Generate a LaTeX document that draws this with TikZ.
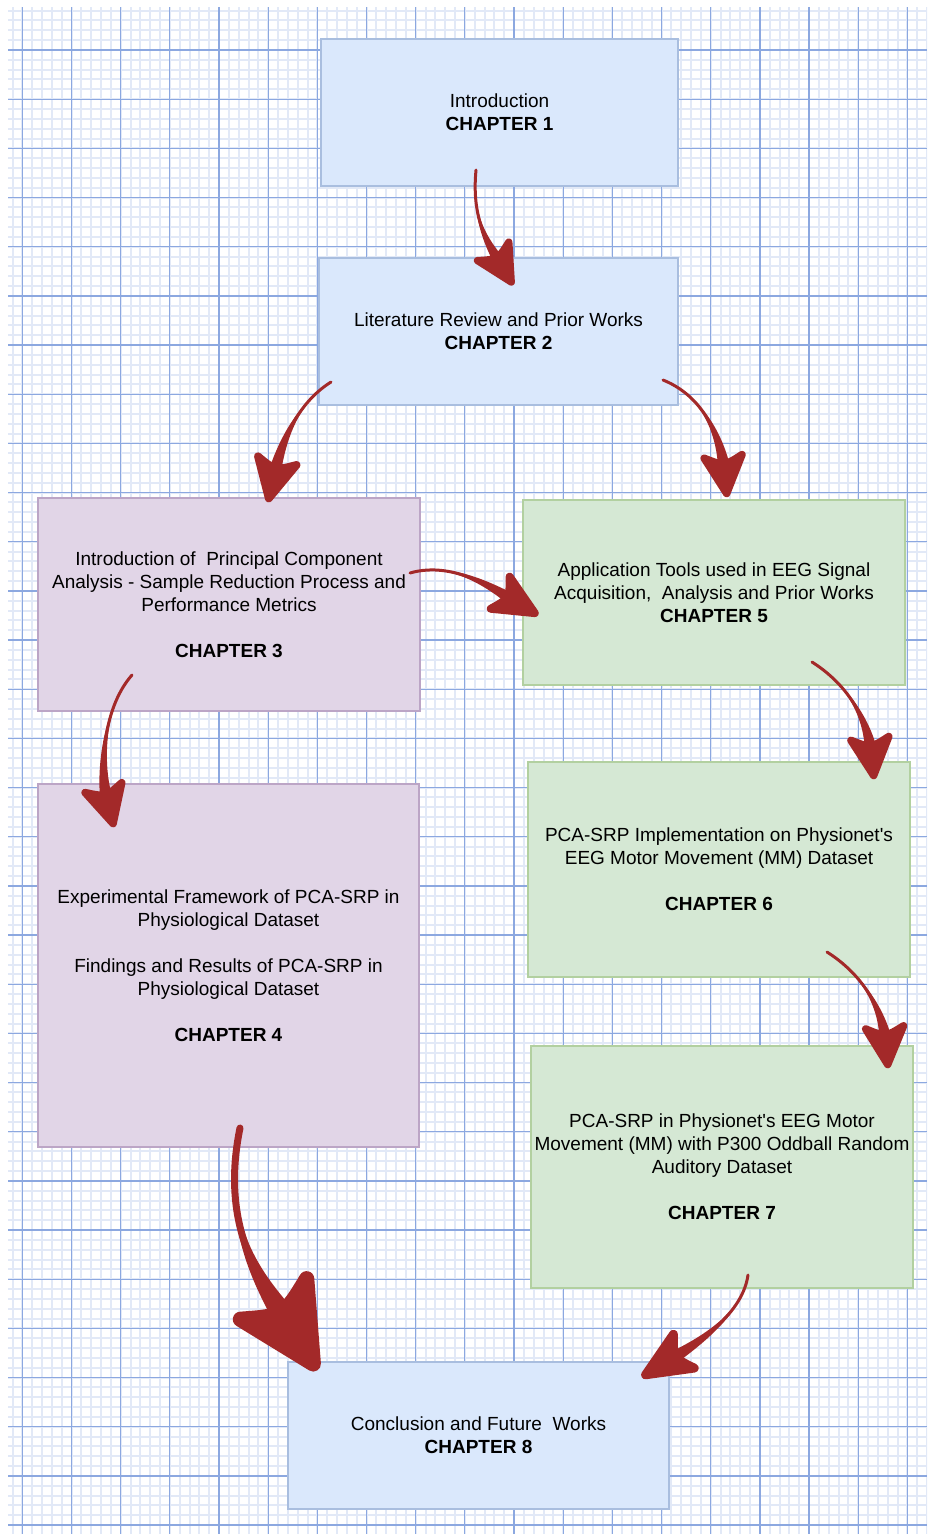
\documentclass[tikz,border=0pt]{standalone}
\usepackage{fontspec}
\setmainfont{Liberation Sans}
\usetikzlibrary{calc}

\definecolor{bfill}{HTML}{DAE8FC}
\definecolor{pfill}{HTML}{E1D5E7}
\definecolor{gfill}{HTML}{D5E8D4}
\definecolor{bline}{HTML}{A9BEDF}
\definecolor{pline}{HTML}{BCA5C6}
\definecolor{gline}{HTML}{B2D0A0}
\definecolor{arrowred}{RGB}{163,41,41}
\definecolor{minorgrid}{RGB}{226,233,247}
\definecolor{majorgrid}{RGB}{140,168,224}

% tapered curved arrow: #1 tail, #2 first control, #3 second control, #4 tip,
% #5 half width of the body at the head, #6 body end distance from the tip,
% #7 barb length, #8 barb half-angle, #9 tail stroke width
\newcommand{\fatarrow}[9]{%
  \path ($(#4)!#6!(#3)$) coordinate (fa-e)
        ($(fa-e)!#5!90:(#3)$) coordinate (fa-el)
        ($(fa-e)!#5!-90:(#3)$) coordinate (fa-er)
        ($(#3)!0.6*#5!-90:(fa-e)$) coordinate (fa-cl)
        ($(#3)!0.6*#5!90:(fa-e)$) coordinate (fa-cr)
        ($(#4)!0.07*#7!(#3)$) coordinate (fa-t)
        ($(#4)!0.9*#7!#8:(#3)$) coordinate (fa-b1)
        ($(#4)!0.9*#7!-#8:(#3)$) coordinate (fa-b2)
        ($(#4)!0.62*#7!(#3)$) coordinate (fa-n);
  \fill[arrowred] (#1) .. controls (#2) and (fa-cl) .. (fa-el)
        -- (fa-er) .. controls (fa-cr) and (#2) .. (#1) -- cycle;
  \draw[arrowred, line width=#9, line cap=round] (#1) .. controls (#2) and (#3) .. (fa-e);
  \filldraw[arrowred, line width={0.15*#7}, line join=round]
        (fa-t) -- (fa-b1) .. controls (fa-n) .. (fa-b2) -- cycle;
}

\tikzset{
  box/.style={draw, line width=1.3pt, inner sep=0pt, align=center,
    font=\fontsize{19}{23}\selectfont},
  bluebox/.style={box, fill=bfill, draw=bline},
  purplebox/.style={box, fill=pfill, draw=pline},
  greenbox/.style={box, fill=gfill, draw=gline},
  minorline/.style={draw=minorgrid, line width=2pt},
  majorline/.style={draw=majorgrid, line width=1.3pt}
}

\begin{document}
\begin{tikzpicture}[x=1pt, y=-1pt]
\useasboundingbox (0,0) rectangle (927,1534);
\fill[white] (0,0) rectangle (927,1534);

% graph paper
\begin{scope}
  \clip (8,7) rectangle (927,1534);
  \foreach \k in {0,...,94} {
    \draw[minorline] ({12.5+9.834*\k},7) -- ({12.5+9.834*\k},1534);
  }
  \foreach \k in {0,...,156} {
    \draw[minorline] (8,{10.66+9.834*\k}) -- (927,{10.66+9.834*\k});
  }
  \foreach \k in {0,...,18} {
    \draw[majorline] ({22.3+49.17*\k},7) -- ({22.3+49.17*\k},1534);
  }
  \foreach \k in {0,...,30} {
    \draw[majorline] (8,{50+49.17*\k}) -- (927,{50+49.17*\k});
  }
\end{scope}

% chapter boxes
\node[bluebox, minimum width=357pt, minimum height=147pt] (c1) at (499.5,112.5)
  {Introduction\\\textbf{CHAPTER 1}};
\node[bluebox, minimum width=359pt, minimum height=147pt] (c2) at (498.5,331.5)
  {Literature Review and Prior Works\\\textbf{CHAPTER 2}};
\node[purplebox, minimum width=382pt, minimum height=213pt] (c3) at (229,604.5)
  {Introduction of~ Principal Component\\Analysis - Sample Reduction Process and\\Performance Metrics\\[23pt]\textbf{CHAPTER 3}};
\node[greenbox, minimum width=382pt, minimum height=185pt] (c5) at (714,592.5)
  {Application Tools used in EEG Signal\\Acquisition,~ Analysis and Prior Works\\\textbf{CHAPTER 5}};
\node[purplebox, minimum width=381pt, minimum height=363pt] (c4) at (228.5,965.5)
  {Experimental Framework of PCA-SRP in\\Physiological Dataset\\[23pt]Findings and Results of PCA-SRP in\\Physiological Dataset\\[23pt]\textbf{CHAPTER 4}};
\node[greenbox, minimum width=382pt, minimum height=215pt] (c6) at (719,869.5)
  {PCA-SRP Implementation on Physionet\textquotesingle s\\EEG Motor Movement (MM) Dataset\\[23pt]\textbf{CHAPTER 6}};
\node[greenbox, minimum width=382pt, minimum height=242pt] (c7) at (722,1167)
  {PCA-SRP in Physionet\textquotesingle s EEG Motor\\Movement (MM) with P300 Oddball Random\\Auditory Dataset\\[23pt]\textbf{CHAPTER 7}};
\node[bluebox, minimum width=381pt, minimum height=147pt] (c8) at (478.5,1435.5)
  {Conclusion and Future~ Works\\\textbf{CHAPTER 8}};

% arrow end points and bends
\coordinate (a1s) at (476,170);  \coordinate (a1c) at (471,222);
\coordinate (a1d) at (490,246);  \coordinate (a1t) at (513,285);
\coordinate (a2s) at (331,382);  \coordinate (a2c) at (296,404);
\coordinate (a2d) at (281,444);  \coordinate (a2t) at (268,502);
\coordinate (a3s) at (663,380);  \coordinate (a3c) at (708,398);
\coordinate (a3d) at (722,445);  \coordinate (a3t) at (727,497);
\coordinate (a4s) at (410,573);  \coordinate (a4c) at (455,560);
\coordinate (a4d) at (499,592);  \coordinate (a4t) at (538,615);
\coordinate (a5s) at (132,675);  \coordinate (a5c) at (101,710);
\coordinate (a5d) at (100,775);  \coordinate (a5t) at (114,827);
\coordinate (a6s) at (812,662);  \coordinate (a6c) at (856,690);
\coordinate (a6d) at (869,730);  \coordinate (a6t) at (874,779);
\coordinate (a7s) at (827,952);  \coordinate (a7c) at (871,980);
\coordinate (a7d) at (884,1020); \coordinate (a7t) at (888,1068);
\coordinate (a8s) at (240,1128); \coordinate (a8c) at (218,1235);
\coordinate (a8d) at (268,1290); \coordinate (a8t) at (317,1370);
\coordinate (a9s) at (748,1275); \coordinate (a9c) at (742,1318);
\coordinate (a9d) at (689,1348); \coordinate (a9t) at (642,1377);

% connectors
\fatarrow{a1s}{a1c}{a1d}{a1t}{6pt}{24pt}{48pt}{25}{3pt}
\fatarrow{a2s}{a2c}{a2d}{a2t}{6.5pt}{27pt}{52pt}{25}{3pt}
\fatarrow{a3s}{a3c}{a3d}{a3t}{6.5pt}{26pt}{50pt}{25}{3pt}
\fatarrow{a4s}{a4c}{a4d}{a4t}{6.5pt}{27pt}{53pt}{23}{3pt}
\fatarrow{a5s}{a5c}{a5d}{a5t}{6.5pt}{26pt}{50pt}{25}{3pt}
\fatarrow{a6s}{a6c}{a6d}{a6t}{6.5pt}{26pt}{50pt}{25}{3pt}
\fatarrow{a7s}{a7c}{a7d}{a7t}{6.5pt}{26pt}{50pt}{25}{3pt}
\fatarrow{a8s}{a8c}{a8d}{a8t}{13pt}{52pt}{102pt}{25}{7pt}
\fatarrow{a9s}{a9c}{a9d}{a9t}{7pt}{30pt}{59pt}{22}{3pt}
\end{tikzpicture}
\end{document}
